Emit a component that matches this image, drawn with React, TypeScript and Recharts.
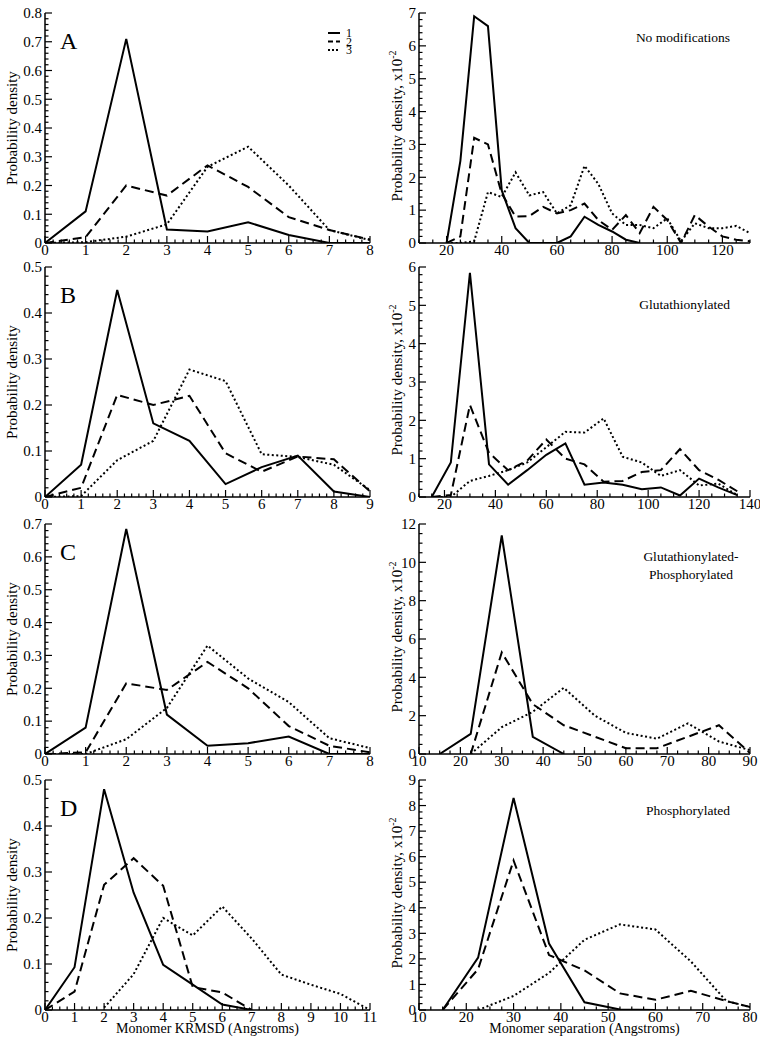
import React from 'react';
import { LineChart, Line, XAxis, YAxis, Legend } from 'recharts';

const FONT = "'Liberation Serif', 'Times New Roman', Times, serif";

// ---- Panel A : no modifications ----
const aKx = [0, 1, 2, 3, 4, 5, 6, 7, 8];
const aK1 = [0, 0.11, 0.71, 0.047, 0.04, 0.072, 0.028, 0, 0];
const aK2 = [0, 0.02, 0.2, 0.165, 0.27, 0.195, 0.09, 0.045, 0.012];
const aK3 = [0, 0.003, 0.022, 0.065, 0.265, 0.335, 0.2, 0.045, 0.01];

const aSx = [20, 25, 30, 35, 40, 45, 50, 55, 60, 65, 70, 75, 80, 85, 90, 95, 100, 105, 110, 115, 120, 125, 130];
const aS1 = [0, 2.5, 6.9, 6.6, 1.6, 0.45, 0, 0, 0, 0.2, 0.8, 0.55, 0.35, 0.1, 0, null, null, null, null, null, null, null, null];
const aS2 = [0, 0.2, 3.2, 3.0, 1.5, 0.8, 0.82, 1.1, 0.9, 1.0, 1.2, 0.7, 0.4, 0.85, 0.3, 1.1, 0.7, 0, 0.85, 0.5, 0.2, 0.1, 0.05];
const aS3 = [0, 0, 0.05, 1.55, 1.4, 2.15, 1.45, 1.55, 0.9, 1.15, 2.35, 1.8, 0.9, 0.55, 0.55, 0.45, 0.75, 0.05, 0.6, 0.45, 0.45, 0.52, 0.3];

// ---- Panel B : glutathionylated ----
const bKx = [0, 1, 2, 3, 4, 5, 6, 7, 8, 9];
const bK1 = [0, 0.07, 0.45, 0.16, 0.122, 0.028, 0.065, 0.09, 0.012, 0];
const bK2 = [0, 0.02, 0.222, 0.2, 0.22, 0.095, 0.055, 0.088, 0.082, 0.012];
const bK3 = [0, 0.002, 0.08, 0.122, 0.277, 0.252, 0.093, 0.087, 0.07, 0.015];

const bSx = [15, 22.5, 30, 37.5, 45, 52.5, 60, 67.5, 75, 82.5, 90, 97.5, 105, 112.5, 120, 127.5, 135];
const bS1 = [0, 0.9, 5.85, 0.85, 0.32, 0.7, 1.1, 1.4, 0.32, 0.38, 0.32, 0.2, 0.25, 0.04, 0.48, 0.25, 0.05];
const bS2 = [0, 0.05, 2.4, 1.15, 0.7, 0.95, 1.5, 1.0, 0.85, 0.4, 0.42, 0.65, 0.7, 1.25, 0.7, 0.45, 0.15];
const bS3 = [0, 0, 0.42, 0.55, 0.7, 0.9, 1.3, 1.7, 1.68, 2.05, 1.05, 0.9, 0.55, 0.7, 0.3, 0.35, 0.05];

// ---- Panel C : glutathionylated-phosphorylated ----
const cKx = [0, 1, 2, 3, 4, 5, 6, 7, 8];
const cK1 = [0, 0.08, 0.685, 0.12, 0.025, 0.033, 0.053, 0, 0];
const cK2 = [0, 0.005, 0.215, 0.195, 0.28, 0.2, 0.085, 0.025, 0.005];
const cK3 = [0, 0, 0.045, 0.14, 0.33, 0.23, 0.158, 0.048, 0.018];

const cSx = [15, 22.5, 30, 37.5, 45, 52.5, 60, 67.5, 75, 82.5, 90];
const cS1 = [0, 1.05, 11.4, 0.9, 0, null, null, null, null, null, null];
const cS2 = [null, 0, 5.3, 2.6, 1.5, 0.9, 0.3, 0.3, 0.9, 1.5, 0.05];
const cS3 = [null, 0, 1.4, 2.2, 3.45, 2.0, 1.1, 0.8, 1.6, 0.65, 0.2];

// ---- Panel D : phosphorylated ----
const dKx = [0, 1, 2, 3, 4, 5, 6, 7, 8, 9, 10, 11];
const dK1 = [0, 0.093, 0.48, 0.255, 0.098, 0.055, 0.012, 0, null, null, null, null];
const dK2 = [0, 0.04, 0.272, 0.33, 0.27, 0.05, 0.038, 0, null, null, null, null];
const dK3 = [null, null, 0.005, 0.078, 0.2, 0.162, 0.225, 0.155, 0.077, 0.055, 0.035, 0];

const dSx = [15, 22.5, 30, 37.5, 45, 52.5, 60, 67.5, 75, 82.5];
const dS1 = [0, 2.05, 8.3, 2.6, 0.3, 0.02, 0, null, null, null];
const dS2 = [0, 1.6, 5.85, 2.15, 1.55, 0.65, 0.4, 0.75, 0.35, 0];
const dS3 = [null, 0, 0.55, 1.45, 2.75, 3.35, 3.15, 1.9, 0.35, 0];

const panelLetters = ['A', 'B', 'C', 'D'];
const panelNotes = [['No modifications'], ['Glutathionylated'], ['Glutathionylated-', 'Phosphorylated'], ['Phosphorylated']];

// layout
const PLOT_TOPS = [13, 267, 524, 780];
const PLOT_H = 230;
const LEFT_X = 45;
const LEFT_W = 325;
const RIGHT_X = 419;
const RIGHT_W = 331;

const range = (a: number, b: number, s: number) => {
  const out: number[] = [];
  const n = Math.round((b - a) / s);
  for (let i = 0; i <= n; i++) out.push(+(a + i * s).toFixed(4));
  return out;
};

const toRows = (xs: number[], s1: any[], s2: any[], s3: any[]) =>
  xs.map((x, i) => ({ x, s1: s1[i] ?? null, s2: s2[i] ?? null, s3: s3[i] ?? null }));

const SERIES = [
  { key: 's1', name: '1', dash: undefined, w: 2 },
  { key: 's2', name: '2', dash: '9 5', w: 2 },
  { key: 's3', name: '3', dash: '2 2.5', w: 2 },
];

const isMajor = (v: number, majors: number[]) => majors.some((m) => Math.abs(m - v) < 1e-6);
const AXIS = { stroke: '#000', strokeWidth: 1.5 };
const MAJ = 7;
const MIN = 3.5;

const bottomTick = (majors: number[], fmt: (v: number) => string) => (p: any) => {
  const v = p.payload.value;
  const major = isMajor(v, majors);
  return (
    <g>
      <line x1={p.x} x2={p.x} y1={p.y} y2={p.y - (major ? MAJ : MIN)} stroke="#000" strokeWidth={1.2} />
      {major && (
        <text x={p.x} y={p.y + 12} textAnchor="middle" fill="#000" style={{ fontFamily: FONT, fontSize: 15 }}>
          {fmt(v)}
        </text>
      )}
    </g>
  );
};

const topTick = (majors: number[]) => (p: any) => {
  const major = isMajor(p.payload.value, majors);
  return <line x1={p.x} x2={p.x} y1={p.y} y2={p.y + (major ? MAJ : MIN)} stroke="#000" strokeWidth={1.2} />;
};

const leftTick = (majors: number[], fmt: (v: number) => string) => (p: any) => {
  const v = p.payload.value;
  const major = isMajor(v, majors);
  return (
    <g>
      <line x1={p.x} x2={p.x + (major ? MAJ : MIN)} y1={p.y} y2={p.y} stroke="#000" strokeWidth={1.2} />
      {major && (
        <text x={p.x - 3} y={p.y} dy="0.35em" textAnchor="end" fill="#000" style={{ fontFamily: FONT, fontSize: 15 }}>
          {fmt(v)}
        </text>
      )}
    </g>
  );
};

const rightTick = (majors: number[]) => (p: any) => {
  const major = isMajor(p.payload.value, majors);
  return <line x1={p.x} x2={p.x - (major ? MAJ : MIN)} y1={p.y} y2={p.y} stroke="#000" strokeWidth={1.2} />;
};

const renderLegend = (props: any) => (
  <svg width={50} height={36} style={{ display: 'block', overflow: 'visible' }}>
    {(props.payload || []).map((e: any, i: number) => (
      <g key={i}>
        <line x1={0} x2={12} y1={6 + i * 8.5} y2={6 + i * 8.5} stroke="#000" strokeWidth={2}
          strokeDasharray={i === 1 ? '5 3' : i === 2 ? '2 2' : undefined} />
        <text x={18} y={6 + i * 8.5} dy="0.35em" fill="#000" style={{ fontFamily: FONT, fontSize: 12 }}>{e.value}</text>
      </g>
    ))}
  </svg>
);

interface PanelProps {
  plotLeft: number;
  plotTop: number;
  plotW: number;
  yw: number;
  rows: any[];
  xDomain: [number, number];
  yDomain: [number, number];
  xTicks: number[];
  xMajor: number[];
  yTicks: number[];
  yMajor: number[];
  yFmt: (v: number) => string;
  legend?: boolean;
}

function Panel(p: PanelProps) {
  const xFmt = (v: number) => String(v);
  return (
    <div style={{ position: 'absolute', left: p.plotLeft - p.yw, top: p.plotTop - 10 }}>
      <LineChart
        width={p.yw + p.plotW + 10}
        height={10 + PLOT_H + 20}
        data={p.rows}
        margin={{ top: 10, right: 10, bottom: 0, left: 0 }}
      >
        <XAxis dataKey="x" type="number" domain={p.xDomain} allowDataOverflow ticks={p.xTicks} interval={0}
          height={20} tickSize={0} tickMargin={0} tickLine={false} axisLine={AXIS} tick={bottomTick(p.xMajor, xFmt)} />
        <XAxis xAxisId="top" orientation="top" dataKey="x" type="number" domain={p.xDomain} allowDataOverflow
          ticks={p.xTicks} interval={0} height={0} tickSize={0} tickMargin={0} tickLine={false} axisLine={AXIS}
          tick={topTick(p.xMajor)} />
        <YAxis type="number" domain={p.yDomain} allowDataOverflow ticks={p.yTicks} interval={0} width={p.yw}
          tickSize={0} tickMargin={0} tickLine={false} axisLine={AXIS} tick={leftTick(p.yMajor, p.yFmt)} />
        <YAxis yAxisId="right" orientation="right" type="number" domain={p.yDomain} allowDataOverflow
          ticks={p.yTicks} interval={0} width={0} tickSize={0} tickMargin={0} tickLine={false} axisLine={AXIS}
          tick={rightTick(p.yMajor)} />
        {SERIES.map((s) => (
          <Line key={s.key} dataKey={s.key} name={s.name} type="linear" stroke="#000" strokeWidth={s.w}
            strokeDasharray={s.dash} dot={false} activeDot={false} isAnimationActive={false} />
        ))}
        {p.legend && (
          <Legend layout="vertical" align="center" verticalAlign="middle" content={renderLegend}
            wrapperStyle={{ top: 33 - (p.plotTop - 10) - 6, left: 328 - (p.plotLeft - p.yw), width: 50, height: 36 }} />
        )}
      </LineChart>
    </div>
  );
}

const fmt1 = (v: number) => (v === 0 ? '0' : v.toFixed(1));
const fmt0 = (v: number) => String(v);

export default function App() {
  const leftPanels = [
    { rows: toRows(aKx, aK1, aK2, aK3), x: [0, 8], y: [0, 0.8], xs: 0.2, ys: 0.02, legend: true },
    { rows: toRows(bKx, bK1, bK2, bK3), x: [0, 9], y: [0, 0.5], xs: 0.2, ys: 0.02 },
    { rows: toRows(cKx, cK1, cK2, cK3), x: [0, 8], y: [0, 0.7], xs: 0.2, ys: 0.02 },
    { rows: toRows(dKx, dK1, dK2, dK3), x: [0, 11], y: [0, 0.5], xs: 0.25, ys: 0.02 },
  ];
  const rightPanels = [
    { rows: toRows(aSx, aS1, aS2, aS3), x: [10, 130], y: [0, 7], xm: range(20, 120, 20), xs: 5, ym: range(0, 7, 1), ys: 0.2 },
    { rows: toRows(bSx, bS1, bS2, bS3), x: [10, 140], y: [0, 6], xm: range(20, 140, 20), xs: 5, ym: range(0, 6, 1), ys: 0.2 },
    { rows: toRows(cSx, cS1, cS2, cS3), x: [10, 90], y: [0, 12], xm: range(10, 90, 10), xs: 2.5, ym: range(0, 12, 2), ys: 0.5 },
    { rows: toRows(dSx, dS1, dS2, dS3), x: [10, 80], y: [0, 9], xm: range(10, 80, 10), xs: 2.5, ym: range(0, 9, 1), ys: 0.25 },
  ];

  return (
    <div style={{ position: 'absolute', left: 0, top: 0, width: 765, height: 1050, background: '#fff', fontFamily: FONT }}>
      {leftPanels.map((lp, i) => (
        <Panel key={'l' + i} plotLeft={LEFT_X} plotTop={PLOT_TOPS[i]} plotW={LEFT_W} yw={40} rows={lp.rows}
          xDomain={lp.x as [number, number]} yDomain={lp.y as [number, number]}
          xTicks={range(lp.x[0], lp.x[1], lp.xs)} xMajor={range(lp.x[0], lp.x[1], 1)}
          yTicks={range(lp.y[0], lp.y[1], lp.ys)} yMajor={range(lp.y[0], lp.y[1], 0.1)} yFmt={fmt1}
          legend={!!lp.legend} />
      ))}
      {rightPanels.map((rp, i) => (
        <Panel key={'r' + i} plotLeft={RIGHT_X} plotTop={PLOT_TOPS[i]} plotW={RIGHT_W} yw={30} rows={rp.rows}
          xDomain={rp.x as [number, number]} yDomain={rp.y as [number, number]}
          xTicks={range(rp.x[0], rp.x[1], rp.xs)} xMajor={rp.xm}
          yTicks={range(rp.y[0], rp.y[1], rp.ys)} yMajor={rp.ym} yFmt={fmt0} />
      ))}
      <svg width={765} height={1050} style={{ position: 'absolute', left: 0, top: 0, pointerEvents: 'none', fontFamily: FONT }}>
        {PLOT_TOPS.map((t, i) => {
          const cy = t + PLOT_H / 2;
          const ry = t + 113;
          return (
            <g key={i} fill="#000">
              <text x={60} y={t + 36} style={{ fontSize: 24 }}>{panelLetters[i]}</text>
              <text x={12} y={cy} dy="0.35em" textAnchor="middle" transform={`rotate(-90 12 ${cy})`} style={{ fontSize: 15 }}>
                Probability density
              </text>
              <text x={397} y={ry} dy="0.35em" textAnchor="middle" transform={`rotate(-90 397 ${ry})`} style={{ fontSize: 15 }}>
                Probability density, x10<tspan dy={-6} style={{ fontSize: 10 }}>-2</tspan>
              </text>
              {panelNotes[i].length === 1 ? (
                <text x={730} y={[42, 309, 0, 815][i]} textAnchor="end" style={{ fontSize: 13.5 }}>{panelNotes[i][0]}</text>
              ) : (
                panelNotes[i].map((n, j) => (
                  <text key={j} x={691} y={561 + j * 18} textAnchor="middle" style={{ fontSize: 13.5 }}>{n}</text>
                ))
              )}
            </g>
          );
        })}
        <text x={LEFT_X + LEFT_W / 2} y={1033} textAnchor="middle" style={{ fontSize: 14 }}>
          Monomer KRMSD (Angstroms)
        </text>
        <text x={RIGHT_X + RIGHT_W / 2} y={1033} textAnchor="middle" style={{ fontSize: 14 }}>
          Monomer separation (Angstroms)
        </text>
      </svg>
    </div>
  );
}
